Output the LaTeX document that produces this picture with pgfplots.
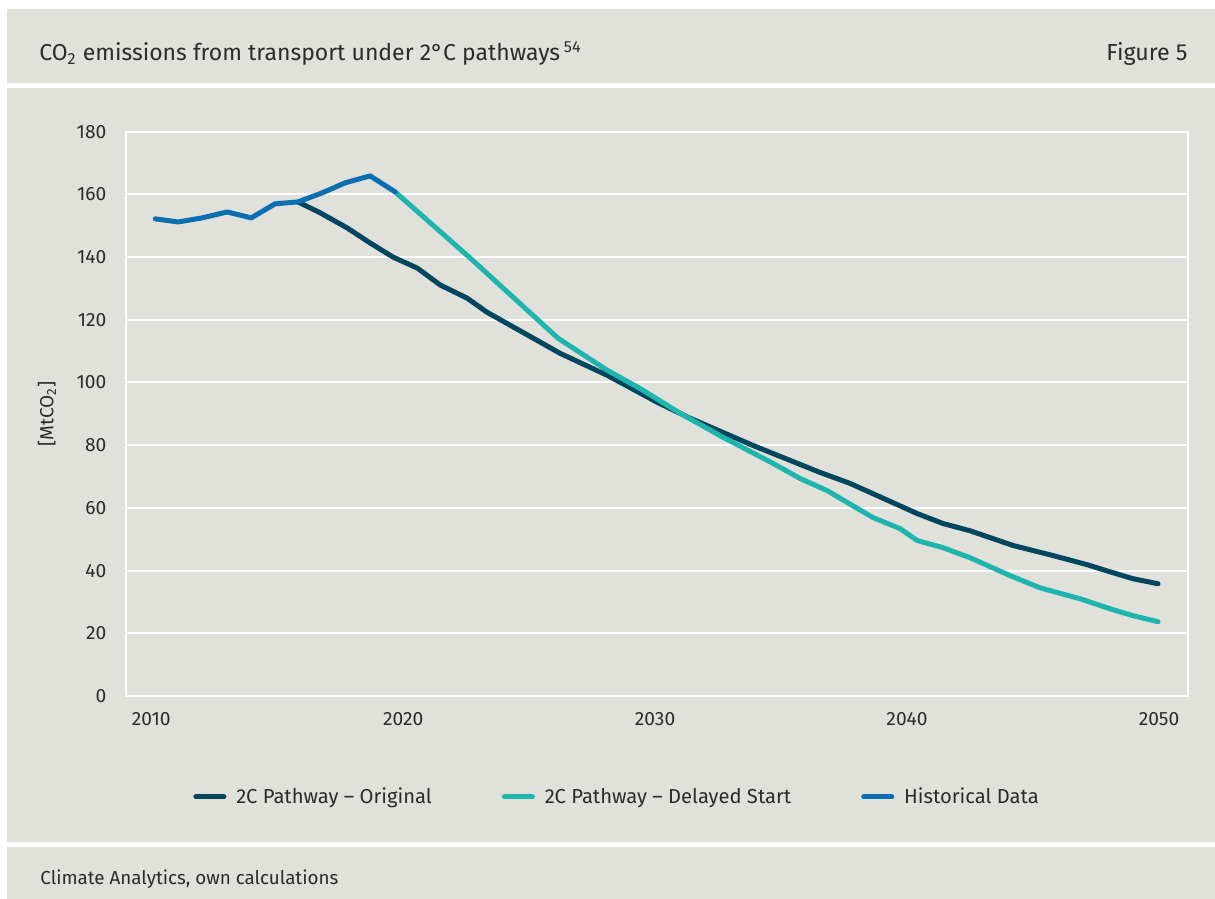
\documentclass[border=0pt]{standalone}
\usepackage{fontspec}
\setmainfont{Fira Sans}
\usepackage{pgfplots}
\pgfplotsset{compat=1.18}
\definecolor{bg}{HTML}{E1E1DC}
\definecolor{txt}{HTML}{2B2B2B}
\definecolor{histblue}{HTML}{0A6EB0}
\definecolor{origdark}{HTML}{00465E}
\definecolor{delayteal}{HTML}{1DB5AC}
\begin{document}
\begin{tikzpicture}
\begin{scope}[x=0.5pt,y=-0.5pt,yshift=449.5pt]
\fill[white] (0,0) rectangle (1215,899);
\fill[bg] (7,9) rectangle (1215,83);
\fill[bg] (7,88) rectangle (1215,842);
\fill[bg] (7,847) rectangle (1215,899);
\node[anchor=base west, text=txt, font=\fontsize{11.5}{14}\selectfont, inner sep=0pt] at (39,61) {CO\textsubscript{2} emissions from transport under 2°C pathways\,\textsuperscript{54}};
\node[anchor=base east, text=txt, font=\fontsize{11.6}{14}\selectfont, inner sep=0pt] at (1188,61) {Figure 5};
\node[anchor=base west, text=txt, font=\fontsize{9.4}{12}\selectfont, inner sep=0pt] at (40,885) {Climate Analytics, own calculations};
\end{scope}
\begin{axis}[
  at={(63pt,101.5pt)}, anchor=south west,
  scale only axis, width=531pt, height=282.15pt,
  xmin=2009, xmax=2051.15, ymin=0, ymax=180,
  xtick={2010,2020,2030,2040,2050},
  ytick={0,20,...,180},
  major tick length=0pt,
  axis line style={white, line width=1pt},
  ymajorgrids, grid style={white, line width=1pt},
  tick label style={text=txt, font=\fontsize{9.6}{11}\selectfont},
  /pgf/number format/assume math mode=true,
  /pgf/number format/1000 sep={},
  xticklabel style={yshift=-4.6pt},
  yticklabel style={xshift=-6.3pt},
  ylabel={[MtCO\textsubscript{2}]},
  every axis y label/.style={at={(axis description cs:0,0.5)}, xshift=-39.5pt, rotate=90, anchor=center, text=txt, font=\fontsize{9.5}{11}\selectfont},
  legend columns=3,
  legend style={at={(axis description cs:0,0)}, anchor=west, xshift=33.5pt, yshift=-50.5pt, draw=none, fill=none, inner sep=0pt, font=\fontsize{10.1}{12}\selectfont, text=txt, /tikz/every odd column/.append style={column sep=3pt}, /tikz/every even column/.append style={column sep=33pt}},
  legend image code/.code={\draw[#1, line width=2.5pt, line cap=round] (0pt,0pt) -- (14pt,0pt);},
  every axis plot/.append style={line width=2.5pt, line cap=round, line join=round},
]
\addplot[origdark] coordinates {(2015.83,157.6)(2016.71,154.1)(2017.78,149.3)(2018.69,144.5)(2019.60,140.0)(2020.56,136.5)(2021.47,131.1)(2022.54,126.9)(2023.33,122.4)(2024.75,116.0)(2026.23,109.3)(2028.10,102.3)(2030.08,93.7)(2031.39,88.6)(2033.89,79.9)(2036.55,71.3)(2037.74,67.8)(2040.40,58.2)(2041.43,55.0)(2042.50,52.7)(2044.21,48.0)(2045.79,44.8)(2047.14,41.9)(2048.06,39.6)(2048.97,37.4)(2049.96,35.8)};
\addlegendentry{2C Pathway -- Original}
\addplot[delayteal] coordinates {(2019.68,160.8)(2020.50,155.0)(2022.66,139.7)(2026.15,114.1)(2028.10,103.9)(2029.40,98.1)(2030.99,90.2)(2032.70,82.5)(2034.68,74.2)(2035.75,69.4)(2036.83,65.5)(2038.65,56.9)(2039.72,53.4)(2040.40,49.6)(2041.43,47.3)(2042.50,44.1)(2044.09,38.4)(2045.28,34.5)(2046.87,31.0)(2048.06,27.8)(2048.97,25.6)(2049.96,23.7)};
\addlegendentry{2C Pathway -- Delayed Start}
\addplot[histblue] coordinates {(2010.16,152.2)(2011.07,151.2)(2012.02,152.5)(2013.02,154.4)(2013.97,152.5)(2014.92,157.0)(2015.83,157.6)(2016.79,160.5)(2017.70,163.7)(2018.69,165.9)(2019.68,160.8)};
\addlegendentry{Historical Data}
\end{axis}
\end{tikzpicture}
\end{document}
